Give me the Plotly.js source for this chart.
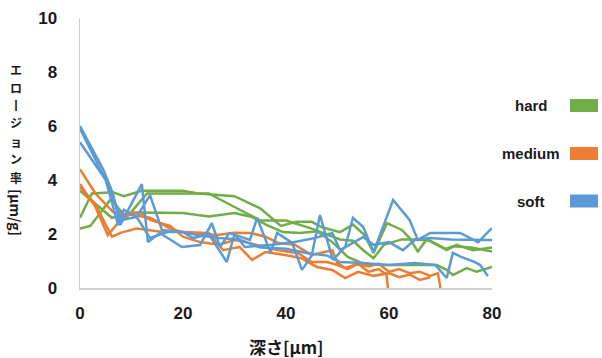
<!DOCTYPE html>
<html><head><meta charset="utf-8">
<script src="https://cdn.plot.ly/plotly-3.0.1.min.js"></script>
<style>html,body{margin:0;padding:0;background:#fff}#chart{width:602px;height:358px}</style>
</head><body><div id="chart"></div>
<script>
// ---- data ----
const categories = ['hard', 'medium', 'soft'];

const hard1X = [0, 2.3, 6.4, 8.5, 12, 20, 23, 30, 35, 39, 42, 45, 47, 50.5, 53, 55.3, 57, 58.5, 59.6, 62.5, 64, 65.6, 67.3, 71.2, 73.1, 76.3, 80];
const hard1Y = [2.6, 3.5, 3.55, 3.4, 3.6, 3.6, 3.5, 3.4, 2.95, 2.3, 2.45, 2.45, 2.25, 2.07, 2.35, 1.95, 1.3, 1.9, 2.4, 2.15, 1.85, 1.35, 1.8, 1.4, 1.6, 1.4, 1.5];
const hard2X = [0, 2, 6, 9, 13, 20, 25, 30, 35, 40, 45, 50.5, 53, 55, 57, 59, 62.5, 65.4, 68, 71, 72.4, 76, 80];
const hard2Y = [2.2, 2.3, 3.3, 2.6, 3.5, 3.5, 3.5, 3.0, 2.5, 2.5, 2.2, 1.8, 1.75, 1.4, 1.1, 1.6, 1.8, 1.8, 1.75, 1.45, 1.55, 1.5, 1.35];
const hard3X = [0, 6.2, 11, 20, 25, 30, 33.4, 36.3, 39.4, 42.7, 46, 49, 52, 55, 58.3, 62, 66, 69.3, 71.2, 72.4, 75.1, 77, 80];
const hard3Y = [3.6, 2.6, 2.8, 2.78, 2.65, 2.78, 2.63, 2.33, 2.07, 2.04, 2.1, 1.7, 1.15, 0.9, 0.85, 0.85, 0.85, 0.85, 0.67, 0.48, 0.74, 0.6, 0.78];

const medium1X = [0, 3, 6.5, 10, 13.6, 17.5, 20, 26.6, 30, 33, 36, 38.5, 41.7, 45, 47.6, 49, 50, 51.5, 54, 56, 58, 60, 62, 64, 66, 68, 69.5, 70];
const medium1Y = [4.4, 3.5, 2.8, 2.7, 2.6, 2.2, 2.07, 1.96, 2.05, 2.04, 1.9, 1.67, 1.6, 1.22, 1.33, 1.4, 0.93, 0.74, 0.9, 0.8, 0.9, 0.6, 0.7, 0.55, 0.6, 0.45, 0.55, 0];
const medium2X = [0, 3, 5.4, 7.8, 10.3, 12, 13.6, 17.5, 20, 23.3, 27, 30, 32, 35, 38.5, 42.3, 45, 48, 50, 52, 54, 56, 58, 59.5, 59.8];
const medium2Y = [3.85, 3.0, 1.96, 2.5, 2.8, 2.75, 2.52, 2.3, 1.9, 1.7, 1.6, 1.78, 1.7, 1.55, 1.4, 1.3, 0.96, 0.96, 0.85, 0.7, 0.9, 0.6, 0.7, 0.5, 0];
const medium3X = [0, 3, 6.2, 8, 11, 15, 20, 25, 27.8, 31, 33.4, 36, 39.8, 43, 46, 49, 51.5, 54, 57, 60, 62, 64, 66, 68];
const medium3Y = [3.74, 3.1, 1.9, 2.05, 2.2, 2.1, 2.07, 2.04, 1.4, 1.52, 1.04, 1.33, 1.22, 1.1, 0.78, 0.67, 0.37, 0.6, 0.45, 0.55, 0.4, 0.5, 0.3, 0.4];

const soft1X = [0, 4.5, 6.4, 7.8, 12, 13.2, 15.5, 19.8, 23.3, 25.6, 27.2, 29, 33, 34.4, 37, 38.3, 41.2, 43.1, 45, 46.6, 49.1, 51.5, 53, 55, 57, 60.8, 64, 65.6, 68, 73.8, 77.3, 80];
const soft1Y = [6.0, 4.4, 3.5, 2.33, 3.85, 1.7, 2.04, 1.52, 1.59, 2.4, 1.52, 2.04, 1.78, 2.6, 1.3, 2.04, 1.67, 0.67, 1.2, 2.7, 1.04, 1.52, 2.6, 2.26, 1.33, 3.26, 2.52, 1.78, 2.04, 2.04, 1.7, 2.22];
const soft2X = [0, 5, 8.2, 11, 13.6, 15.9, 20, 22, 25, 28.5, 30, 32, 37.3, 41.7, 45.6, 49, 50.5, 55, 57, 60, 62.7, 65, 68, 72, 78.6, 80];
const soft2Y = [5.9, 4.0, 2.52, 2.63, 3.44, 2.15, 2.07, 1.85, 2.0, 0.96, 2.0, 1.52, 1.6, 1.7, 1.85, 2.04, 1.4, 1.89, 1.6, 1.7, 1.4, 1.78, 1.85, 1.8, 1.78, 1.78];
const soft3X = [0, 5, 7.4, 8.5, 11, 13.6, 16.9, 20, 23, 27, 31, 35, 40, 44, 48, 50.5, 55, 60, 65, 69, 71.2, 72.4, 74, 76.7, 77.7, 79.2];
const soft3Y = [5.4, 4.0, 2.33, 2.9, 2.63, 1.85, 2.07, 2.07, 1.95, 1.85, 1.8, 1.5, 1.45, 1.3, 1.2, 0.96, 0.93, 0.85, 0.93, 0.85, 0.37, 1.3, 1.15, 0.96, 0.85, 0.44];

const xTicks = [0, 20, 40, 60, 80];
const yTicks = [0, 2, 4, 6, 8, 10];
const xTitle = '深さ[μm]';
const yTitleStacked = ['エ', 'ロ', '丨', 'ジ', 'ョ', 'ン', '率'];
const yTitleUnit = '[μm/g]';

// ---- styling ----
const colorMap = {hard: '#70ad47', medium: '#ed7d31', soft: '#5b9bd5'};
const seriesList = [
  ['hard', hard1X, hard1Y], ['hard', hard2X, hard2Y], ['hard', hard3X, hard3Y],
  ['medium', medium1X, medium1Y], ['medium', medium2X, medium2Y], ['medium', medium3X, medium3Y],
  ['soft', soft1X, soft1Y], ['soft', soft2X, soft2Y], ['soft', soft3X, soft3Y]
];
const traces = seriesList.map(([cat, xs, ys]) => ({
  type: 'scatter', mode: 'lines', x: xs, y: ys, name: cat,
  line: {color: colorMap[cat], width: 2.5}, showlegend: false, hoverinfo: 'skip'
}));

const L = 80, R = 492, T = 18, B = 288;
const px = v => (v - L) / (R - L);
const py = v => (B - v) / (B - T);
const tickFont = {family: 'Liberation Sans, Arial, sans-serif', size: 17, color: '#1a1a1a', weight: 'bold'};
const jpFont = {family: 'Noto Sans CJK JP, sans-serif', size: 12, color: '#1a1a1a', weight: 'bold'};

const annotations = [];
// y title: upright stacked characters, unit rotated below
yTitleStacked.forEach((t, i) => {
  annotations.push({
    xref: 'paper', yref: 'paper', x: px(16), y: py(69 + i * 18),
    text: t, showarrow: false, xanchor: 'center', yanchor: 'middle',
    font: jpFont
  });
});
annotations.push({
  xref: 'paper', yref: 'paper', x: px(16), y: py(212),
  text: yTitleUnit, showarrow: false, xanchor: 'center', yanchor: 'middle',
  textangle: 90, font: Object.assign({}, jpFont, {size: 14})
});
// x title
annotations.push({xref: 'paper', yref: 'paper', x: px(286), y: py(346), text: xTitle,
  showarrow: false, xanchor: 'center', yanchor: 'middle',
  font: Object.assign({}, jpFont, {size: 17})});
// legend
const legY = [105.5, 153.5, 201];
const shapes = [];
categories.forEach((c, i) => {
  annotations.push({xref: 'paper', yref: 'paper', x: px(531), y: py(legY[i]), text: c,
    showarrow: false, xanchor: 'center', yanchor: 'middle',
    font: {family: 'Liberation Sans, Arial, sans-serif', size: 15, color: '#1a1a1a', weight: 'bold'}});
  shapes.push({type: 'rect', xref: 'paper', yref: 'paper',
    x0: px(570), x1: px(598), y0: py(legY[i] + 6.5), y1: py(legY[i] - 6.5),
    fillcolor: colorMap[c], line: {width: 0}});
});

const layout = {
  width: 602, height: 358,
  margin: {l: L, r: 602 - R, t: T, b: 358 - B, pad: 0},
  paper_bgcolor: '#fff', plot_bgcolor: '#fff',
  showlegend: false,
  xaxis: {range: [0, 80], tickvals: xTicks, ticktext: xTicks.map(String),
    showgrid: false, zeroline: false, showline: true, linecolor: '#d0d0d0', linewidth: 1.5,
    ticks: '', tickfont: tickFont, ticklabelstandoff: 9, fixedrange: true},
  yaxis: {range: [0, 10], tickvals: yTicks, ticktext: yTicks.map(String),
    showgrid: false, zeroline: false, showline: true, linecolor: '#d0d0d0', linewidth: 1.5,
    ticks: '', tickfont: tickFont, ticklabelstandoff: 18, fixedrange: true},
  annotations: annotations,
  shapes: shapes
};

Plotly.newPlot('chart', traces, layout, {staticPlot: true, displayModeBar: false});
</script>
</body></html>
